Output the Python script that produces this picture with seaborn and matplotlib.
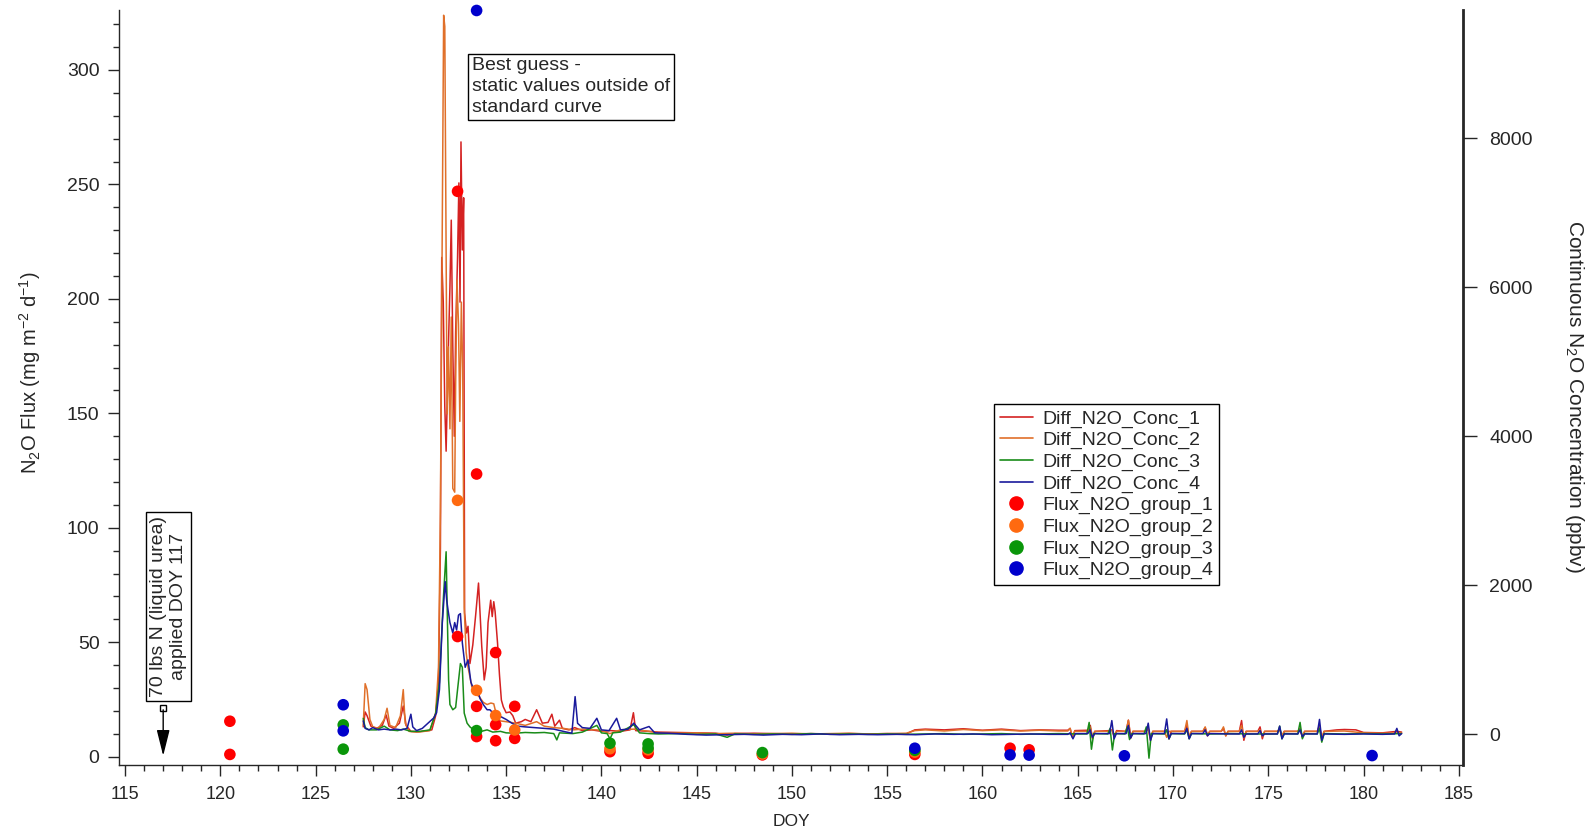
import matplotlib
matplotlib.use("Agg")
import matplotlib.pyplot as plt
import pandas as pd
import seaborn as sns
from matplotlib.lines import Line2D
from matplotlib.ticker import MultipleLocator

# ---- chamber flux samples (left axis, mg m-2 d-1) ----
flux1_doy = [120.5, 120.5, 132.45, 132.45, 133.45, 133.45, 133.45, 134.45, 134.45, 134.45,
             135.45, 135.45, 140.45, 142.45, 148.45, 156.45, 161.45, 162.45]
flux1 = [15.5, 1.0, 247, 52.5, 123.5, 22, 8.8, 45.5, 14, 7, 22, 8, 2.2, 1.5, 0.8, 1.0, 3.7, 3.0]
flux2_doy = [132.45, 133.45, 134.45, 135.45, 140.45, 142.45, 148.45, 156.45]
flux2 = [112, 29, 18, 11.7, 3.5, 3.0, 1.2, 2.0]
flux3_doy = [126.45, 126.45, 133.45, 140.45, 142.45, 142.45, 148.45, 156.45]
flux3 = [13.9, 3.3, 11.4, 5.9, 5.6, 3.8, 1.8, 2.8]
flux4_doy = [126.45, 126.45, 133.45, 156.45, 161.45, 162.45, 167.45, 180.45]
flux4 = [22.7, 11.3, 326, 3.7, 0.8, 0.7, 0.4, 0.5]

# ---- continuous concentration differences (right axis, ppbv) ----
conc1_pts = [
    (127.5, 100), (127.6, 300), (127.7, 250), (127.9, 110), (128.2, 80), (128.5, 120),
    (128.7, 260), (128.85, 110), (129.1, 80), (129.4, 150), (129.6, 380), (129.75, 120),
    (130.0, 40), (130.4, 35), (130.8, 45), (131.1, 60), (131.3, 250), (131.45, 700),
    (131.55, 2500), (131.62, 6400), (131.7, 5800), (131.78, 4400), (131.85, 3800),
    (131.95, 5000), (132.05, 6000), (132.12, 6900), (132.2, 5200), (132.28, 4000),
    (132.35, 5400), (132.45, 6400), (132.52, 7400), (132.58, 5800), (132.63, 7950),
    (132.7, 6500), (132.77, 7200), (132.82, 1630), (132.92, 1360), (133.0, 1450),
    (133.1, 950), (133.25, 1200), (133.4, 1600), (133.55, 2030), (133.72, 1180),
    (133.85, 730), (133.95, 900), (134.05, 1500), (134.19, 1800), (134.27, 1580),
    (134.35, 1780), (134.42, 1650), (134.55, 1220), (134.65, 800), (134.75, 460),
    (134.85, 370), (135.0, 290), (135.2, 300), (135.35, 250), (135.5, 150), (135.8, 170),
    (136.0, 200), (136.3, 170), (136.6, 330), (136.9, 150), (137.2, 160), (137.4, 270),
    (137.55, 110), (137.8, 190), (137.95, 80), (138.3, 60), (138.6, 90), (139.0, 50),
    (139.5, 60), (140.0, 40), (140.5, 50), (141.0, 40), (141.5, 60), (141.68, 290),
    (141.8, 50), (142.5, 40), (143.0, 30), (144.0, 25), (145.0, 20), (146.0, 15),
    (146.6, -10), (147.0, 10), (148.0, 15), (149.0, 10), (150.0, 5), (151.0, 10),
    (152.0, 5), (153.0, 10), (154.0, 5), (155.0, 10), (156.0, 5), (156.45, 60),
    (157.0, 70), (158.0, 60), (159.0, 75), (160.0, 55), (161.0, 70), (162.0, 50),
    (163.0, 60), (164.0, 55), (164.48, 55), (164.6, 80), (164.72, -40), (164.85, 50),
    (165.54, 55), (165.66, 120), (165.78, -60), (165.9, 40), (166.68, 50), (166.8, 60),
    (166.92, -40), (167.04, 50), (167.54, 40), (167.66, 190), (167.78, -50), (167.9, 40),
    (168.58, 40), (168.7, 80), (168.82, -80), (168.94, 40), (169.55, 40), (169.67, 60),
    (169.79, -60), (169.91, 40), (170.61, 40), (170.73, 120), (170.85, -40), (170.97, 40),
    (171.57, 40), (171.69, 90), (171.81, -20), (171.93, 40), (172.53, 40), (172.65, 80),
    (172.77, -20), (172.89, 40), (173.48, 40), (173.6, 185), (173.72, -80), (173.84, 40),
    (174.45, 40), (174.57, 100), (174.69, -60), (174.81, 40), (175.48, 40), (175.6, 70),
    (175.72, -30), (175.84, 40), (176.55, 40), (176.67, 80), (176.79, -40), (176.91, 40),
    (177.57, 40), (177.69, 120), (177.81, -60), (177.93, 40), (178.6, 60), (179.0, 65),
    (179.6, 60), (180.0, 25), (181.0, 20), (181.75, 40), (182.0, 30),
]
conc2_pts = [
    (127.5, 120), (127.6, 680), (127.7, 600), (127.85, 200), (128.0, 100), (128.3, 80),
    (128.6, 200), (128.75, 350), (128.9, 120), (129.2, 90), (129.45, 250), (129.6, 600),
    (129.7, 150), (129.9, 40), (130.3, 30), (130.7, 40), (131.0, 50), (131.3, 290),
    (131.45, 900), (131.55, 3000), (131.65, 7000), (131.72, 9650), (131.78, 9500),
    (131.85, 6500), (131.9, 4300), (131.97, 5200), (132.05, 4100), (132.12, 5600),
    (132.2, 3300), (132.3, 3250), (132.35, 4700), (132.42, 6100), (132.5, 5500),
    (132.57, 4200), (132.65, 5800), (132.72, 4900), (132.8, 1700), (132.9, 1100),
    (133.0, 900), (133.2, 640), (133.4, 550), (133.6, 500), (133.8, 430), (134.0, 400),
    (134.2, 420), (134.35, 410), (134.5, 250), (134.7, 180), (135.0, 170), (135.5, 150),
    (136.0, 120), (136.6, 170), (137.0, 110), (137.5, 90), (138.0, 80), (138.5, 60),
    (139.0, 70), (139.76, 60), (140.0, 50), (140.45, 10), (141.0, 60), (141.7, 70),
    (142.5, 40), (143.0, 20), (144.0, 15), (145.0, 20), (146.0, 10), (147.0, 15),
    (148.0, 5), (149.0, 10), (150.0, 15), (151.0, 5), (152.0, 10), (153.0, 15),
    (154.0, 5), (155.0, 10), (156.0, 15), (156.45, 50), (157.0, 60), (158.0, 45),
    (159.0, 65), (160.0, 50), (161.0, 60), (162.0, 45), (163.0, 55), (164.0, 45),
    (164.48, 45), (164.6, 80), (164.72, -30), (164.84, 40), (165.53, 40), (165.65, 100),
    (165.77, -40), (165.89, 40), (166.68, 40), (166.8, 60), (166.92, -20), (167.04, 40),
    (167.54, 40), (167.66, 190), (167.78, -40), (167.9, 40), (168.58, 40), (168.7, 80),
    (168.82, -50), (168.94, 40), (169.55, 40), (169.67, -40), (169.79, 40), (170.61, 40),
    (170.73, 185), (170.85, -50), (170.97, 40), (171.57, 40), (171.69, 100), (171.81, -10),
    (171.93, 40), (172.53, 40), (172.65, 100), (172.77, -20), (172.89, 40), (173.48, 40),
    (173.6, 120), (173.72, -50), (173.84, 40), (174.45, 40), (174.57, 60), (174.69, -30),
    (174.81, 40), (175.48, 40), (175.6, 60), (175.72, -20), (175.84, 40), (176.55, 40),
    (176.67, 70), (176.79, -30), (176.91, 40), (177.57, 40), (177.69, 100), (177.81, -50),
    (177.93, 40), (179.0, 45), (180.0, 20), (181.0, 15), (182.0, 20),
]
conc3_pts = [
    (127.5, 215), (127.6, 90), (127.8, 60), (128.2, 60), (128.6, 110), (128.9, 60),
    (129.3, 50), (129.6, 70), (130.0, 40), (130.5, 40), (131.0, 60), (131.3, 280),
    (131.5, 700), (131.7, 1800), (131.85, 2450), (131.92, 1500), (131.98, 730),
    (132.05, 400), (132.2, 330), (132.35, 360), (132.45, 600), (132.6, 950), (132.7, 900),
    (132.8, 285), (132.95, 150), (133.1, 100), (133.3, 60), (133.5, 70), (133.7, 40),
    (134.0, 60), (134.3, 30), (134.7, 40), (135.0, 20), (135.5, 15), (136.0, 25),
    (136.5, 20), (137.0, 25), (137.5, 10), (137.66, -75), (137.8, 20), (138.5, 10),
    (139.0, 30), (139.76, 120), (140.0, 20), (140.3, 10), (140.45, -60), (140.6, 20),
    (141.0, 30), (141.7, 130), (142.0, 20), (142.5, 10), (143.0, 5), (144.0, 10),
    (145.0, 0), (146.0, 5), (146.6, -40), (147.0, 5), (148.0, 0), (149.0, 5), (150.0, 0),
    (151.0, 10), (152.0, 0), (153.0, 5), (154.0, 0), (155.0, 5), (156.0, 0), (157.0, 5),
    (158.0, 10), (159.0, 0), (160.0, 5), (161.0, 10), (162.0, 0), (163.0, 5), (164.0, 10),
    (165.0, 5), (165.48, 5), (165.6, 160), (165.72, -200), (165.84, 10), (166.58, 5),
    (166.7, 80), (166.82, -210), (166.94, 10), (167.48, 5), (167.6, 100), (167.72, -70),
    (167.84, 10), (168.48, 5), (168.6, 100), (168.74, -320), (168.86, 10), (169.55, 5),
    (169.67, 60), (169.79, -60), (169.91, 10), (170.61, 5), (170.73, 60), (170.85, -60),
    (170.97, 10), (172.0, 5), (173.0, 10), (174.0, 5), (175.48, 5), (175.6, 110),
    (175.72, -60), (175.84, 10), (176.55, 5), (176.67, 160), (176.79, -60), (176.91, 10),
    (177.57, 5), (177.69, 80), (177.81, -105), (177.93, 10), (179.0, 5), (180.0, 10),
    (181.0, 5), (182.0, 10),
]
conc4_pts = [
    (127.5, 180), (127.6, 80), (127.8, 60), (128.0, 90), (128.3, 60), (128.6, 70),
    (128.9, 60), (129.2, 70), (129.5, 60), (129.8, 80), (130.0, 270), (130.1, 100),
    (130.3, 50), (130.6, 80), (130.9, 150), (131.2, 220), (131.35, 290), (131.5, 600),
    (131.65, 1500), (131.8, 2050), (131.88, 1800), (131.95, 1670), (132.05, 1500),
    (132.2, 1360), (132.3, 1500), (132.4, 1400), (132.5, 1600), (132.6, 1620),
    (132.7, 1230), (132.85, 900), (133.0, 1000), (133.15, 700), (133.3, 600), (133.5, 600),
    (133.63, 480), (133.8, 400), (134.0, 330), (134.15, 330), (134.4, 260), (134.7, 240),
    (135.0, 200), (135.3, 150), (135.6, 110), (136.0, 100), (136.5, 90), (137.0, 80),
    (137.5, 70), (138.0, 40), (138.45, 15), (138.62, 506), (138.75, 148), (139.0, 90),
    (139.4, 80), (139.76, 215), (140.0, 60), (140.4, 50), (140.8, 215), (141.0, 60),
    (141.4, 70), (141.7, 150), (142.0, 60), (142.5, 105), (142.8, 20), (143.5, 15),
    (144.5, 0), (145.5, -10), (146.5, -5), (147.5, 0), (148.5, -10), (149.5, 0),
    (150.5, -5), (151.5, 5), (152.5, -5), (153.5, 0), (154.5, -5), (155.5, 0),
    (156.5, -5), (157.5, 5), (158.5, 0), (159.5, 5), (160.5, -5), (161.5, 0), (162.5, 5),
    (163.5, 0), (164.48, 0), (164.6, 20), (164.75, -60), (164.88, 10), (165.53, 10),
    (165.65, 60), (165.77, -40), (165.89, 10), (166.67, 10), (166.79, 184), (166.91, -60),
    (167.03, 10), (167.54, 10), (167.66, 120), (167.78, -50), (167.9, 10), (168.58, 10),
    (168.7, 150), (168.82, -80), (168.94, 10), (169.55, 10), (169.67, 207), (169.79, -60),
    (169.91, 10), (170.61, 10), (170.73, 80), (170.85, -60), (170.97, 10), (171.57, 10),
    (171.69, 60), (171.81, -20), (171.93, 10), (173.0, 5), (173.48, 5), (173.6, 60),
    (173.72, -40), (173.84, 5), (174.45, 5), (174.57, 50), (174.69, -20), (174.81, 5),
    (175.48, 5), (175.6, 110), (175.72, -60), (175.84, 5), (176.55, 5), (176.67, 60),
    (176.79, -30), (176.91, 5), (177.57, 5), (177.69, 200), (177.81, -80), (177.93, 5),
    (179.0, 0), (180.0, 5), (181.0, 0), (181.63, 5), (181.75, 80), (181.87, -20),
    (182.0, 10),
]

line_names = ["Diff_N2O_Conc_1", "Diff_N2O_Conc_2", "Diff_N2O_Conc_3", "Diff_N2O_Conc_4"]
dot_names = ["Flux_N2O_group_1", "Flux_N2O_group_2", "Flux_N2O_group_3", "Flux_N2O_group_4"]
line_colors = ["#d42222", "#e0702a", "#1a8c1a", "#1a1a9c"]
dot_colors = ["#ff0000", "#ff6a10", "#0a960a", "#0000cc"]

# long tables for seaborn
conc_frames = []
for name, pts in zip(line_names, [conc1_pts, conc2_pts, conc3_pts, conc4_pts]):
    d = pd.DataFrame(pts, columns=["doy", "conc"])
    d["series"] = name
    conc_frames.append(d)
conc_df = pd.concat(conc_frames, ignore_index=True)

flux_frames = []
for name, xs, ys in zip(dot_names, [flux1_doy, flux2_doy, flux3_doy, flux4_doy],
                        [flux1, flux2, flux3, flux4]):
    flux_frames.append(pd.DataFrame({"doy": xs, "flux": ys, "group": name}))
flux_df = pd.concat(flux_frames, ignore_index=True)

sns.set_style("ticks")
plt.rcParams["font.family"] = ["Liberation Sans", "DejaVu Sans"]
plt.rcParams["mathtext.fontset"] = "custom"
plt.rcParams["mathtext.rm"] = "Liberation Sans"
plt.rcParams["mathtext.default"] = "regular"

fig = plt.figure(figsize=(15.95, 8.35), dpi=100)
ax = fig.add_axes([0.0746, 0.084, 0.8425, 0.904])
ax2 = ax.twinx()

sns.lineplot(data=conc_df, x="doy", y="conc", hue="series", palette=line_colors,
             estimator=None, sort=False, lw=1.1, legend=False, ax=ax2)
sns.scatterplot(data=flux_df, x="doy", y="flux", hue="group", palette=dot_colors,
                s=70, linewidth=0, legend=False, ax=ax, clip_on=False, zorder=5)

# dots above lines
ax.set_zorder(ax2.get_zorder() + 1)
ax.patch.set_visible(False)

ax.set_xlim(114.68, 185.21)
ax.set_ylim(-3.56, 326.2)
ax2.set_ylim(-409.6, 9720)

ax.xaxis.set_major_locator(MultipleLocator(5))
ax.xaxis.set_minor_locator(MultipleLocator(1))
ax.yaxis.set_major_locator(MultipleLocator(50))
ax.yaxis.set_minor_locator(MultipleLocator(10))
ax2.yaxis.set_major_locator(MultipleLocator(2000))

for s in ["top", "right"]:
    ax.spines[s].set_visible(False)
for s in ["top", "left", "bottom"]:
    ax2.spines[s].set_visible(False)
ax.spines["left"].set_linewidth(1)
ax.spines["bottom"].set_linewidth(1)
ax2.spines["right"].set_linewidth(2)

ax.tick_params(which="major", direction="out", length=8, width=1, pad=6)
ax.tick_params(which="minor", direction="out", length=4.3, width=1)
ax.tick_params(axis="y", which="major", labelsize=14)
ax.tick_params(axis="x", which="major", labelsize=13, pad=7)
ax2.tick_params(which="major", direction="out", length=10, width=1, labelsize=14, pad=9)

ax.set_xlabel("DOY", fontsize=12.5, va="center")
ax.xaxis.set_label_coords(0.5004, -0.0755)
ax.set_ylabel("N$_2$O Flux (mg m$^{-2}$ d$^{-1}$)", fontsize=14.5, va="center")
ax.yaxis.set_label_coords(-0.0659, 0.52)
ax2.set_ylabel("Continuous N$_2$O Concentration (ppbv)", fontsize=15, rotation=270, va="center")
ax2.yaxis.set_label_coords(1.0833, 0.488)

# annotations
ax.text(133.2, 305.5, "Best guess -\nstatic values outside of\nstandard curve", fontsize=14,
        ha="left", va="top", linespacing=1.3,
        bbox=dict(boxstyle="square,pad=0.2", fc="white", ec="black", lw=1))
ax.text(117.27, 26.0, "70 lbs N (liquid urea)\napplied DOY 117", fontsize=14, rotation=90,
        ha="center", va="bottom", multialignment="center", linespacing=1.25,
        bbox=dict(boxstyle="square,pad=0.2", fc="white", ec="black", lw=1))
ax.annotate("", xy=(117, 0.4), xytext=(117, 20.5),
            arrowprops=dict(arrowstyle="-|>,head_length=0.8,head_width=0.2", color="black",
                            lw=1, shrinkA=0, shrinkB=0, mutation_scale=20))
ax.plot([117], [21.2], marker="s", ms=5, mfc="white", mec="black", mew=1, clip_on=False)

handles = [Line2D([], [], color=c, lw=1.2) for c in line_colors] + \
          [Line2D([], [], ls="", marker="o", ms=9.5, color=c) for c in dot_colors]
leg = ax.legend(handles, line_names + dot_names, loc="upper left", bbox_to_anchor=(0.651, 0.478),
                borderaxespad=0, frameon=True, fancybox=False, framealpha=1, edgecolor="black",
                fontsize=14, handlelength=1.7, labelspacing=0.2, borderpad=0.3, handletextpad=0.5)
leg.get_frame().set_linewidth(1)

fig.savefig("out.png", dpi=100)
